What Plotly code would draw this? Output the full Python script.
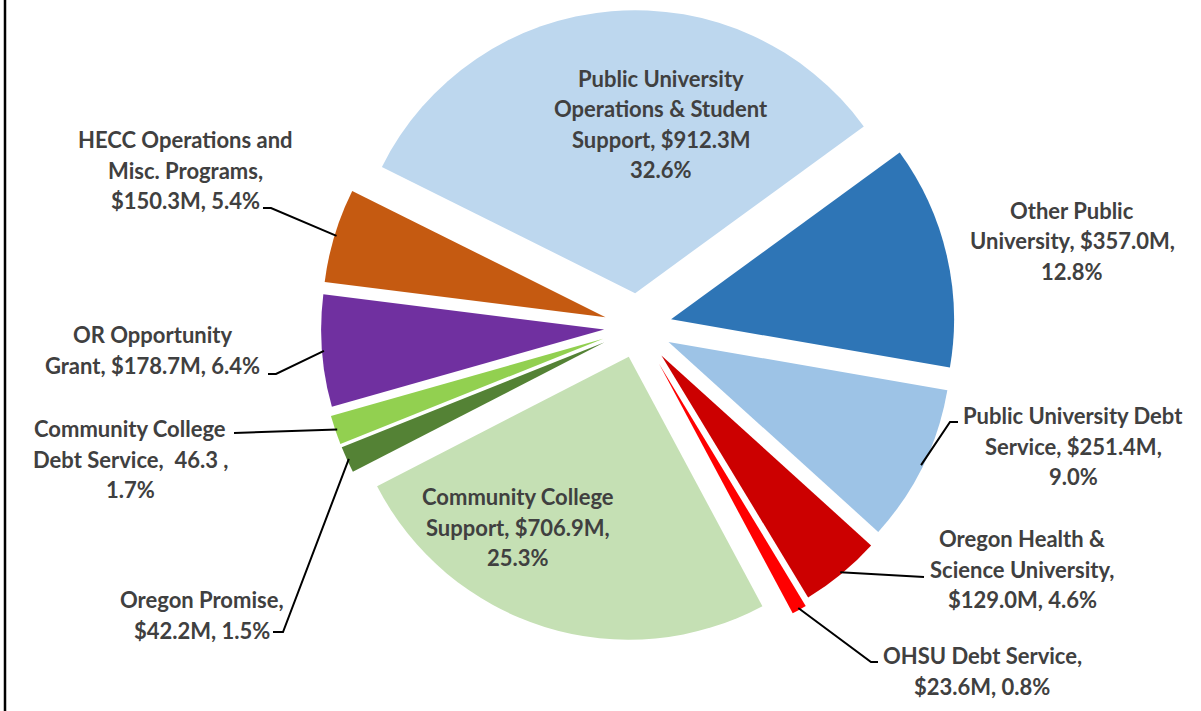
import math
import plotly.graph_objects as go

W, H = 1201, 711

# Slices, clockwise from the upper-left edge of the largest slice
names = [
    "Public University Operations & Student Support",
    "Other Public University",
    "Public University Debt Service",
    "Oregon Health & Science University",
    "OHSU Debt Service",
    "Community College Support",
    "Oregon Promise",
    "Community College Debt Service",
    "OR Opportunity Grant",
    "HECC Operations and Misc. Programs",
]
values = [912.3, 357.0, 251.4, 129.0, 23.6, 706.9, 42.2, 46.3, 178.7, 150.3]  # $M

# Label wording; {v} = value, {p} = share of total
label_templates = [
    "Public University|Operations & Student|Support, ${v}M|{p}",
    "Other Public|University, ${v}M,|{p}",
    "Public University Debt|Service, ${v}M,|{p}",
    "Oregon Health &|Science University,|${v}M, {p}",
    "OHSU Debt Service,|${v}M, {p}",
    "Community College|Support, ${v}M,|{p}",
    "Oregon Promise,|${v}M, {p}",
    "Community College|Debt Service,\u00a0 {v} ,|{p}",
    "OR Opportunity|Grant, ${v}M, {p}",
    "HECC Operations and|Misc. Programs,|${v}M, {p}",
]

colors = ["#BDD7EE", "#2E75B6", "#9DC3E6", "#CC0000", "#FF0000",
          "#C5E0B4", "#548235", "#92D050", "#7030A0", "#C55A11"]
pulls = [0.12, 0.12, 0.12, 0.13, 0.15, 0.11, 0.13, 0.13, 0.12, 0.12]

# ---- layout geometry (pixels) ----
CX, CY, R = 638, 327, 283
ROTATION = -63.5
max_pull = max(pulls)
box = R * (2 + 2 * max_pull)
dom_x = [(CX - box / 2) / W, (CX + box / 2) / W]
dom_y = [1 - (CY + box / 2) / H, 1 - (CY - box / 2) / H]

# text block centres (px) and leader-line start / elbow points
label_layout = [
    dict(c=(661, 124)),
    dict(c=(1072, 241)),
    dict(c=(1073, 446), line=[(958, 422), (950, 422)]),
    dict(c=(1022, 569), line=[(924, 577)]),
    dict(c=(982, 671), line=[(878, 662), (871, 662)]),
    dict(c=(518, 527)),
    dict(c=(202, 615), line=[(273, 632), (283, 632)]),
    dict(c=(130, 459), line=[(234, 433)]),
    dict(c=(152, 350), line=[(268, 374), (276, 374)]),
    dict(c=(185, 170), line=[(263, 208), (271, 208)]),
]

total = sum(values)
LINE_GAP = 30.5
TEXT_COLOR = "#404040"
FONT = "Lato"

annotations = []
shapes = []

cum = 0.0
for i, v in enumerate(values):
    frac = v / total
    mid_deg = ROTATION + 360 * (cum + frac / 2)
    cum += frac
    text = label_templates[i].format(v=f"{v:.1f}", p=f"{100 * frac:.1f}%")
    lines = text.split("|")
    lx, ly = label_layout[i]["c"]
    n = len(lines)
    for k, line in enumerate(lines):
        y = ly + (k - (n - 1) / 2) * LINE_GAP
        annotations.append(dict(
            x=lx / W, y=1 - y / H, xref="paper", yref="paper",
            text=line, showarrow=False, xanchor="center", yanchor="middle",
            font=dict(family=FONT, size=22, color=TEXT_COLOR, weight="bold"),
        ))
    pts = label_layout[i].get("line")
    if pts:
        a = math.radians(mid_deg)
        dist = R * (1 + pulls[i]) - 2
        ax = CX + dist * math.sin(a)
        ay = CY - dist * math.cos(a)
        path_pts = list(pts) + [(ax, ay)]
        path = "M " + " L ".join(f"{px / W:.5f},{1 - py / H:.5f}" for px, py in path_pts)
        shapes.append(dict(type="path", path=path, xref="paper", yref="paper",
                           line=dict(color="black", width=2)))

# left frame edge
shapes.append(dict(type="line", x0=5 / W, x1=5 / W, y0=0, y1=1,
                   xref="paper", yref="paper", line=dict(color="black", width=2.5)))

fig = go.Figure(go.Pie(
    labels=names,
    values=values,
    sort=False,
    direction="clockwise",
    rotation=ROTATION,
    pull=pulls,
    marker=dict(colors=colors, line=dict(width=0)),
    textinfo="none",
    hoverinfo="label+value+percent",
    domain=dict(x=dom_x, y=dom_y),
    showlegend=False,
))

fig.update_layout(
    width=W, height=H,
    margin=dict(l=0, r=0, t=0, b=0),
    paper_bgcolor="white",
    plot_bgcolor="white",
    annotations=annotations,
    shapes=shapes,
)

fig.write_html("out.html")
